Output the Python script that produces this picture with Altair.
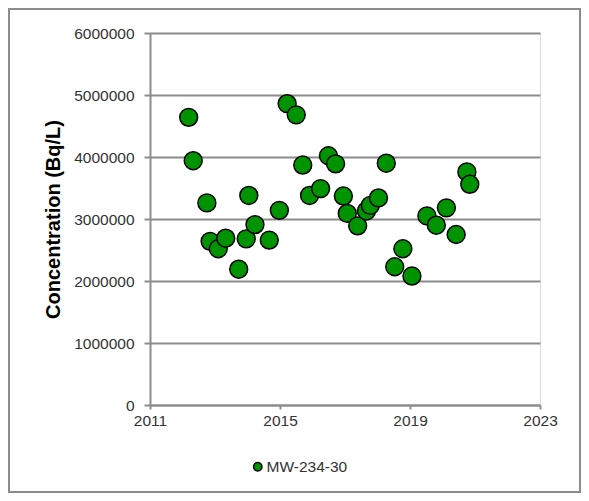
import altair as alt
import pandas as pd

series_name = "MW-234-30"
years = [2012.19, 2012.33, 2012.75, 2012.85, 2013.10, 2013.33, 2013.73, 2013.96,
         2014.04, 2014.23, 2014.67, 2014.98, 2015.22, 2015.50, 2015.70, 2015.91,
         2016.25, 2016.49, 2016.71, 2016.95, 2017.07, 2017.39, 2017.66, 2017.78,
         2018.03, 2018.27, 2018.53, 2018.78, 2019.06, 2019.52, 2019.81, 2020.12,
         2020.42, 2020.75, 2020.84]
values = [4640000, 3940000, 3260000, 2640000, 2520000, 2690000, 2190000, 2680000,
          3380000, 2910000, 2660000, 3140000, 4860000, 4680000, 3870000, 3380000,
          3490000, 4020000, 3890000, 3370000, 3090000, 2890000, 3130000, 3220000,
          3340000, 3900000, 2230000, 2520000, 2080000, 3050000, 2900000, 3180000,
          2750000, 3760000, 3560000]
x_ticks = [2011, 2015, 2019, 2023]
y_ticks = [0, 1000000, 2000000, 3000000, 4000000, 5000000, 6000000]

df = pd.DataFrame({"year": years, "conc": values, "series": [series_name] * len(years)})

FONT = "Liberation Sans"
GRAY = "#8c8c8c"

border = alt.Chart(pd.DataFrame({"a": [0]})).mark_rect(
    fill="white", fillOpacity=0, stroke=GRAY, strokeWidth=2
).encode(
    x=alt.value(-141), x2=alt.value(430), y=alt.value(-24), y2=alt.value(459)
)

points = alt.Chart(df).mark_circle(
    size=320, opacity=1, stroke="black", strokeWidth=1.5
).encode(
    x=alt.X("year:Q", scale=alt.Scale(domain=[2011, 2023], nice=False),
            axis=alt.Axis(values=x_ticks, format="d", grid=False, title=None,
                          domainColor=GRAY, domainWidth=2, tickColor=GRAY, tickWidth=2,
                          tickSize=4, labelPadding=4, labelFont=FONT, labelFontSize=15.5,
                          labelColor="#333333", labelFlush=False)),
    y=alt.Y("conc:Q", scale=alt.Scale(domain=[0, 6000000], nice=False),
            axis=alt.Axis(values=y_ticks, format="d", grid=True, gridColor=GRAY, gridWidth=2,
                          domainColor=GRAY, domainWidth=2, tickColor=GRAY, tickWidth=2,
                          tickSize=6, labelPadding=10, labelFont=FONT, labelFontSize=15.5,
                          labelColor="#333333", labelFlush=False,
                          title="Concentration (Bq/L)", titleFont=FONT, titleFontSize=20,
                          titleFontWeight="bold", titleColor="black",
                          titleX=-97, titleY=186, titleAngle=270,
                          titleAlign="center", titleBaseline="middle")),
    color=alt.Color("series:N", scale=alt.Scale(domain=[series_name], range=["#009300"]),
                    legend=alt.Legend(orient="none", legendX=100, legendY=426, title=None,
                                      symbolType="circle", symbolSize=70,
                                      symbolStrokeColor="black", symbolStrokeWidth=1.5,
                                      symbolFillColor="#009300",
                                      labelFont=FONT, labelFontSize=15.5, labelColor="#333333",
                                      padding=0, labelOffset=1)),
)

chart = alt.layer(border, points).properties(
    width=390, height=372,
    padding={"left": 142, "top": 25, "right": 41, "bottom": 88},
    autosize=alt.AutoSizeParams(type="none"),
).configure_view(stroke=None).configure(background="white")

chart.save("out.html", embed_options={"renderer": "svg", "actions": False})
